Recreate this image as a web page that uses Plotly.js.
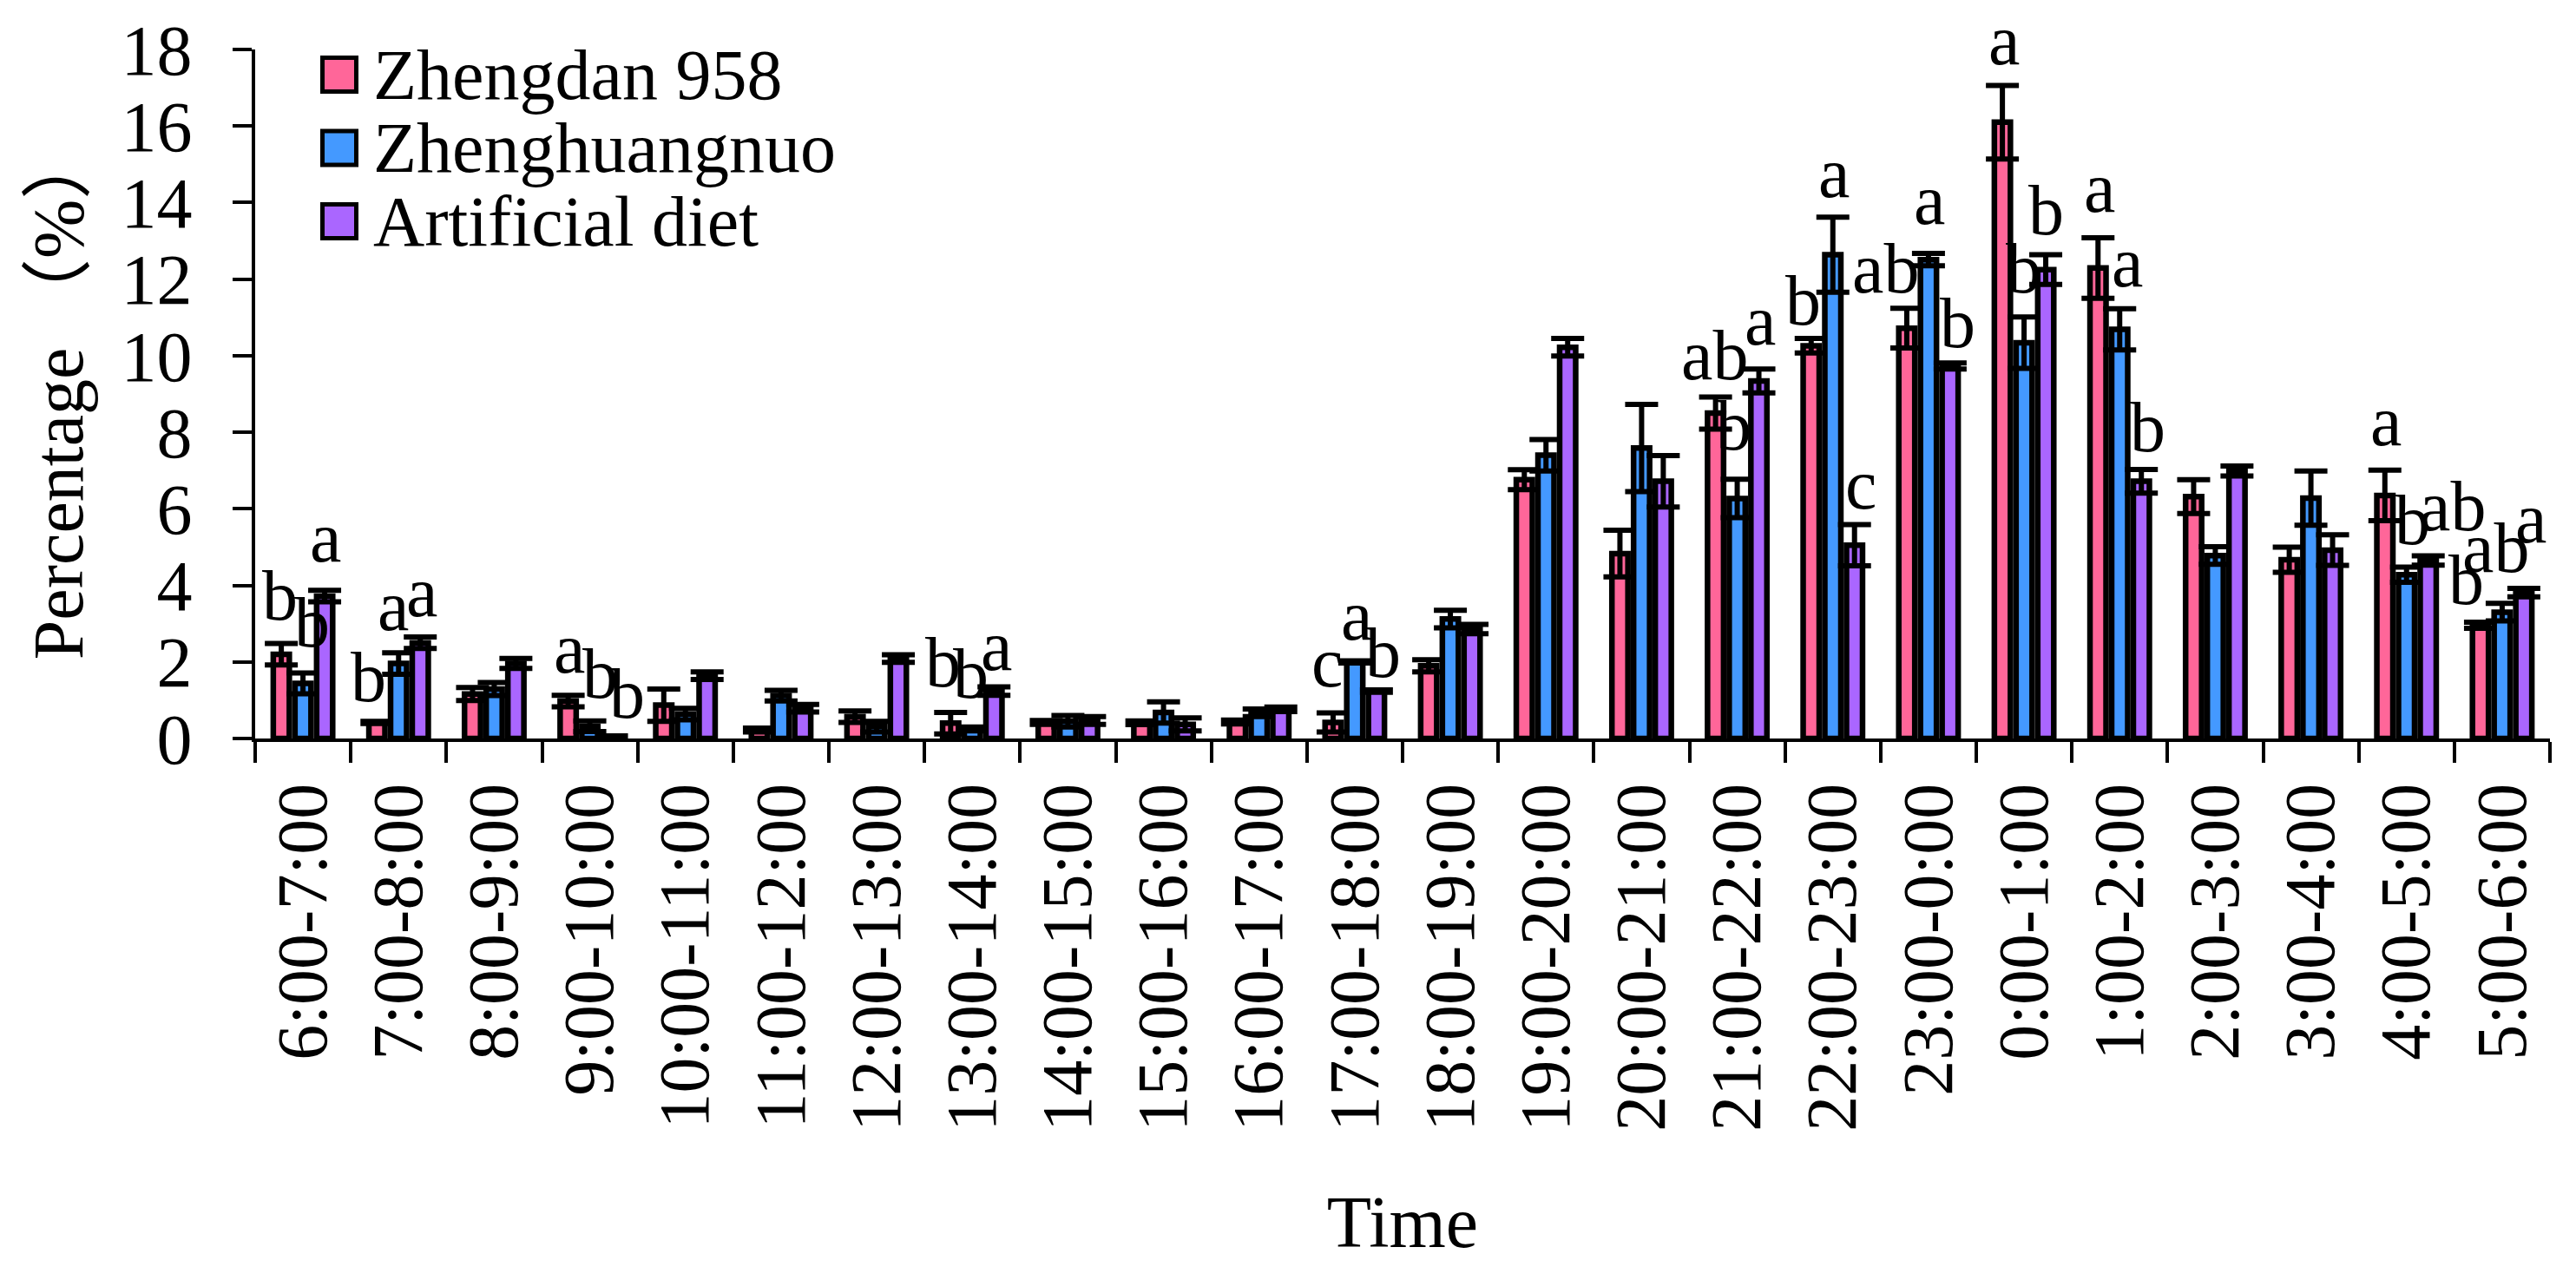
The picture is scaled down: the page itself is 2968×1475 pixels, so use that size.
<!DOCTYPE html>
<html>
<head>
<meta charset="utf-8">
<script src="https://cdn.plot.ly/plotly-3.0.1.min.js"></script>
<style>html,body{margin:0;padding:0;background:#fff;}#chart{width:2968px;height:1475px;}</style>
</head>
<body>
<div id="chart"></div>
<script>
// ---------- data ----------
const times = ['6:00-7:00','7:00-8:00','8:00-9:00','9:00-10:00','10:00-11:00','11:00-12:00',
  '12:00-13:00','13:00-14:00','14:00-15:00','15:00-16:00','16:00-17:00','17:00-18:00',
  '18:00-19:00','19:00-20:00','20:00-21:00','21:00-22:00','22:00-23:00','23:00-0:00',
  '0:00-1:00','1:00-2:00','2:00-3:00','3:00-4:00','4:00-5:00','5:00-6:00'];

const seriesNames = ['Zhengdan 958', 'Zhenghuangnuo', 'Artificial diet'];

const zhengdan    = [2.2, 0.42, 1.16, 0.98, 0.87, 0.22, 0.57, 0.4, 0.42, 0.41, 0.43, 0.42,
                     1.9, 6.76, 4.83, 8.5, 10.26, 10.72, 16.1, 12.29, 6.32, 4.67, 6.35, 2.96];
const zhengdanErr = [0.28, 0.03, 0.17, 0.15, 0.42, 0.05, 0.15, 0.28, 0.05, 0.05, 0.05, 0.25,
                     0.16, 0.26, 0.61, 0.42, 0.19, 0.52, 0.96, 0.79, 0.44, 0.33, 0.66, 0.08];

const zhenghuangnuo    = [1.44, 1.96, 1.29, 0.32, 0.64, 1.12, 0.31, 0.25, 0.45, 0.68, 0.67, 2.0,
                          3.12, 7.4, 7.59, 6.27, 12.64, 12.51, 10.34, 10.69, 4.78, 6.28, 4.28, 3.3];
const zhenghuangnuoErr = [0.27, 0.28, 0.17, 0.14, 0.15, 0.14, 0.14, 0.05, 0.15, 0.28, 0.1, 0.03,
                          0.23, 0.41, 1.14, 0.5, 0.98, 0.16, 0.67, 0.54, 0.23, 0.71, 0.2, 0.23];

const artificial    = [3.72, 2.5, 1.96, 0.05, 1.64, 0.79, 2.09, 1.24, 0.47, 0.37, 0.76, 1.24,
                       2.86, 10.22, 6.72, 9.34, 5.05, 9.73, 12.25, 6.72, 6.99, 4.92, 4.65, 3.81];
const artificialErr = [0.15, 0.15, 0.13, 0.02, 0.1, 0.1, 0.1, 0.11, 0.1, 0.17, 0.06, 0.03,
                       0.12, 0.23, 0.67, 0.31, 0.54, 0.08, 0.39, 0.31, 0.13, 0.4, 0.12, 0.11];

// significance letters ('' = none)
const zhengdanLetters      = ['b','b','','a','','','','b','','','','c','','','','ab','b','ab','a','a','','','a','b'];
const zhenghuangnuoLetters = ['b','a','','b','','','','b','','','','a','','','','b','a','a','b','a','','','b','ab'];
const artificialLetters    = ['a','a','','b','','','','a','','','','b','','','','a','c','b','b','b','','','ab','a'];

const yTicks = [0, 2, 4, 6, 8, 10, 12, 14, 16, 18];

// ---------- placement of the letters (x offset from category centre, baseline in axis units) ----------
const letterPlace = [
  {0:[-0.237,3.10],1:[-0.311,0.96],3:[-0.214,1.71],7:[-0.302,1.35],11:[-0.29,1.35],15:[-0.233,9.38],
   16:[-0.307,10.81],17:[-0.453,11.65],18:[-0.214,17.60],19:[-0.211,13.75],22:[-0.216,7.65],23:[-0.372,3.51]},
  {0:[0.09,2.40],1:[-0.057,2.83],3:[0.104,1.05],7:[-0.012,1.05],11:[0.018,2.58],15:[-0.033,7.54],
   16:[0.011,14.13],17:[0.01,13.43],18:[-0.001,11.65],19:[0.08,11.79],22:[0.065,5.06],23:[-0.064,4.35]},
  {0:[0.235,4.62],1:[0.243,3.19],3:[0.385,0.53],7:[0.252,1.78],11:[0.3,1.60],15:[0.239,10.29],
   16:[0.293,5.99],17:[0.309,10.22],18:[0.235,13.16],19:[0.297,7.49],22:[0.483,5.42],23:[0.3,5.12]}
];

// ---------- styling ----------
const colors = ['#FF6699', '#4499FF', '#AA66FF'];
const FONT = '"Liberation Serif", "Times New Roman", serif';
const W = 2968, H = 1475;
const M = {l: 294, r: 30, t: 57, b: 624};

const values = [zhengdan, zhenghuangnuo, artificial];
const errs = [zhengdanErr, zhenghuangnuoErr, artificialErr];
const letters = [zhengdanLetters, zhenghuangnuoLetters, artificialLetters];

const traces = values.map((v, k) => ({
  type: 'bar',
  name: seriesNames[k],
  x: times,
  y: v,
  marker: {color: colors[k], line: {color: '#000', width: 6.5}},
  error_y: {type: 'data', array: errs[k], visible: true, color: '#000', thickness: 6, width: 19},
  showlegend: false,
  hoverinfo: 'x+y+name'
}));

const annotations = [];
letters.forEach((arr, k) => {
  arr.forEach((t, i) => {
    if (!t) return;
    const p = letterPlace[k][i];
    annotations.push({
      xref: 'x', yref: 'y', x: i + p[0], y: p[1],
      text: t, showarrow: false, xanchor: 'center', yanchor: 'middle', yshift: 28,
      font: {family: FONT, size: 82, color: '#000'}
    });
  });
});

// custom legend (large square swatches)
const pw = W - M.l - M.r, ph = H - M.t - M.b;
const px = x => (x - M.l) / pw;
const py = y => (H - M.b - y) / ph;
const legendRows = [86, 170.5, 255];
const shapes = [];
seriesNames.forEach((n, k) => {
  const cy = legendRows[k];
  shapes.push({type: 'rect', xref: 'paper', yref: 'paper',
    x0: px(371.5), x1: px(410.5), y0: py(cy + 19.5), y1: py(cy - 19.5),
    fillcolor: colors[k], line: {color: '#000', width: 5}});
  annotations.push({xref: 'paper', yref: 'paper', x: px(428), y: py(cy),
    xanchor: 'left', yanchor: 'middle', showarrow: false, text: n,
    font: {family: FONT, size: 82, color: '#000'}});
});

const yTitle = 'Percentage <span style="font-family:Noto Sans CJK SC">（</span>%<span style="font-family:Noto Sans CJK SC">）</span>';

const layout = {
  width: W, height: H,
  margin: M,
  paper_bgcolor: '#fff', plot_bgcolor: '#fff',
  barmode: 'group', bargap: 0.32, bargroupgap: 0.26,
  font: {family: FONT, size: 82, color: '#000'},
  xaxis: {
    type: 'category', range: [-0.5, 23.5], tickson: 'boundaries',
    ticks: 'outside', ticklen: 24, tickwidth: 4, tickcolor: '#000',
    showline: true, linewidth: 4, linecolor: '#000', showgrid: false,
    tickangle: -90, tickfont: {family: FONT, size: 82, color: '#000'}, ticklabelstandoff: 15,
    title: {text: 'Time', font: {family: FONT, size: 84, color: '#000'}, standoff: 77},
    automargin: false
  },
  yaxis: {
    range: [0, 18], tickvals: yTicks, ticktext: yTicks.map(String),
    ticks: 'outside', ticklen: 22, tickwidth: 4, tickcolor: '#000',
    showline: true, linewidth: 4, linecolor: '#000', showgrid: false, zeroline: false,
    tickfont: {family: FONT, size: 82, color: '#000'}, ticklabelstandoff: 30,
    title: {text: yTitle, font: {family: FONT, size: 82, color: '#000'}, standoff: 40},
    automargin: false
  },
  annotations: annotations,
  shapes: shapes,
  showlegend: false
};

Plotly.newPlot('chart', traces, layout, {displayModeBar: false, staticPlot: true});
</script>
</body>
</html>
